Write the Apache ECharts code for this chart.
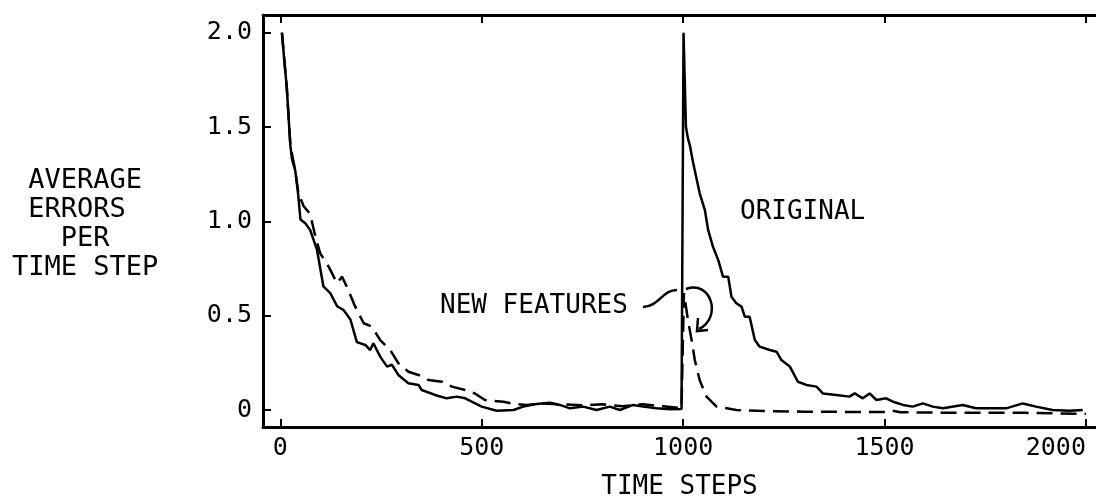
<!doctype html>
<html>
<head>
<meta charset="utf-8">
<title>Average errors per time step</title>
<style>
  html, body { margin: 0; padding: 0; background: #fff; }
  #main { width: 1096px; height: 501px; }
</style>
</head>
<body>
<div id="main"></div>
<script src="https://cdn.jsdelivr.net/npm/echarts@6/dist/echarts.min.js"></script>
<script>
// readings: [time step, average errors]
var original = [
  [4, 2.0], [10, 1.85], [16, 1.71], [25, 1.40], [29, 1.33], [37, 1.27], [44, 1.15], [50, 1.01],
  [62, 0.99], [74, 0.955], [91, 0.85], [107, 0.655], [124, 0.62], [141, 0.55], [157, 0.53],
  [174, 0.48], [190, 0.36], [211, 0.345], [223, 0.318], [231, 0.354], [248, 0.283], [265, 0.23],
  [277, 0.24], [293, 0.186], [318, 0.142], [343, 0.133], [351, 0.106], [384, 0.08], [413, 0.062],
  [438, 0.071], [459, 0.062], [475, 0.044], [500, 0.018], [504, 0.009], [537, -0.004], [579, 0.0],
  [603, 0.018], [636, 0.032], [669, 0.039], [694, 0.027], [719, 0.009], [752, 0.018], [785, 0.0],
  [818, 0.018], [843, 0.0], [876, 0.027], [901, 0.018], [934, 0.009], [967, 0.004], [996, 0.005],
  [1001, 2.0], [1004, 1.75], [1007, 1.5], [1012, 1.44], [1017, 1.40], [1025, 1.31], [1033, 1.23],
  [1041, 1.15], [1054, 1.06], [1062, 0.955], [1074, 0.866], [1087, 0.796], [1099, 0.707],
  [1112, 0.707], [1120, 0.60], [1132, 0.566], [1145, 0.548], [1153, 0.495], [1165, 0.495],
  [1178, 0.371], [1190, 0.336], [1215, 0.318], [1232, 0.309], [1244, 0.265], [1265, 0.23],
  [1285, 0.15], [1306, 0.133], [1331, 0.124], [1347, 0.088], [1380, 0.08], [1413, 0.071],
  [1426, 0.088], [1446, 0.062], [1463, 0.088], [1480, 0.053], [1504, 0.062], [1521, 0.044],
  [1546, 0.027], [1570, 0.018], [1595, 0.035], [1620, 0.018], [1645, 0.009], [1694, 0.027],
  [1727, 0.009], [1760, 0.009], [1802, 0.009], [1843, 0.035], [1876, 0.018], [1917, 0.0],
  [1959, -0.004], [1992, 0.0]
];

var newFeatures = [
  [4, 2.0], [16, 1.71], [25, 1.40], [37, 1.27], [45, 1.15], [58, 1.08], [74, 1.04], [87, 0.92],
  [99, 0.83], [120, 0.76], [141, 0.672], [153, 0.707], [165, 0.654], [186, 0.548], [207, 0.46],
  [227, 0.442], [248, 0.371], [273, 0.318], [293, 0.248], [318, 0.203], [343, 0.186], [368, 0.159],
  [401, 0.15], [426, 0.124], [459, 0.106], [483, 0.088], [508, 0.053], [554, 0.044], [579, 0.032],
  [610, 0.027], [650, 0.035], [700, 0.03], [750, 0.025], [800, 0.03], [850, 0.02], [900, 0.03],
  [950, 0.02], [996, 0.01], [1002, 0.62], [1012, 0.477], [1021, 0.371], [1029, 0.265],
  [1041, 0.159], [1058, 0.071], [1083, 0.018], [1108, 0.009], [1132, 0.0], [1200, -0.005],
  [1300, -0.009], [1400, -0.01], [1500, -0.01], [1515, -0.002], [1540, -0.012], [1700, -0.015],
  [1850, -0.015], [2000, -0.02]
];

var xTicks = [0, 500, 1000, 1500, 2000];
var yTicks = [0, 0.5, 1.0, 1.5, 2.0];

var FONT = '"DejaVu Sans Mono", monospace';
var myChart = echarts.init(document.getElementById('main'));

var axisLine = { show: true, onZero: false, lineStyle: { color: '#000', width: 3 } };
var tick = { show: true, inside: true, length: 8, lineStyle: { color: '#000', width: 2 } };

var option = {
  animation: false,
  backgroundColor: '#fff',
  grid: { left: 263, right: 0, top: 15, bottom: 74, outerBoundsMode: 'none', containLabel: false },
  xAxis: [{
    type: 'value', min: -43, max: 2025, position: 'bottom',
    axisLine: axisLine,
    axisTick: Object.assign({ customValues: xTicks }, tick),
    axisLabel: {
      customValues: xTicks, margin: 9, color: '#000', fontFamily: FONT, fontSize: 25,
      alignMaxLabel: 'right',
      formatter: function (v) { return String(v); }
    },
    splitLine: { show: false },
    name: 'TIME STEPS', nameLocation: 'middle', nameGap: 47,
    nameTextStyle: { color: '#000', fontFamily: FONT, fontSize: 26 }
  }, {
    type: 'value', min: -43, max: 2025, position: 'top',
    axisLine: axisLine,
    axisTick: Object.assign({ customValues: xTicks }, tick),
    axisLabel: { show: false },
    splitLine: { show: false }
  }],
  yAxis: {
    type: 'value', min: -0.09, max: 2.094,
    axisLine: axisLine,
    axisTick: Object.assign({ customValues: yTicks }, tick),
    axisLabel: {
      customValues: yTicks, margin: 11, color: '#000', fontFamily: FONT, fontSize: 25,
      formatter: function (v) { return v === 0 ? '0' : v.toFixed(1); }
    },
    splitLine: { show: false }
  },
  series: [{
    name: 'ORIGINAL', type: 'line', data: original, showSymbol: false, silent: true,
    lineStyle: { color: '#000', width: 2.5 }
  }, {
    name: 'NEW FEATURES', type: 'line', data: newFeatures, showSymbol: false, silent: true,
    lineStyle: { color: '#000', width: 2.5, type: [16, 8] }
  }],
  graphic: [
    {
      type: 'text', left: 12, top: 166,
      style: { text: ' AVERAGE\n ERRORS\n   PER\nTIME STEP', font: '27px ' + FONT, fill: '#000', lineHeight: 29 }
    },
    {
      type: 'text', left: 740, top: 199,
      style: { text: 'ORIGINAL', font: '26px ' + FONT, fill: '#000' }
    },
    {
      type: 'text', left: 440, top: 293,
      style: { text: 'NEW FEATURES', font: '26px ' + FONT, fill: '#000' }
    },
    {
      type: 'bezierCurve',
      shape: { x1: 643, y1: 307, cpx1: 660, cpy1: 306, cpx2: 662, cpy2: 290, x2: 677, y2: 290 },
      style: { stroke: '#000', lineWidth: 2.5, fill: null }
    },
    {
      type: 'bezierCurve',
      shape: { x1: 686, y1: 289, cpx1: 712, cpy1: 280, cpx2: 722, cpy2: 318, x2: 699, y2: 329 },
      style: { stroke: '#000', lineWidth: 2.5, fill: null }
    },
    {
      type: 'polyline',
      shape: { points: [[698, 318], [697, 331], [708, 330]] },
      style: { stroke: '#000', lineWidth: 2.5, fill: null }
    }
  ]
};

myChart.setOption(option);
</script>
</body>
</html>
